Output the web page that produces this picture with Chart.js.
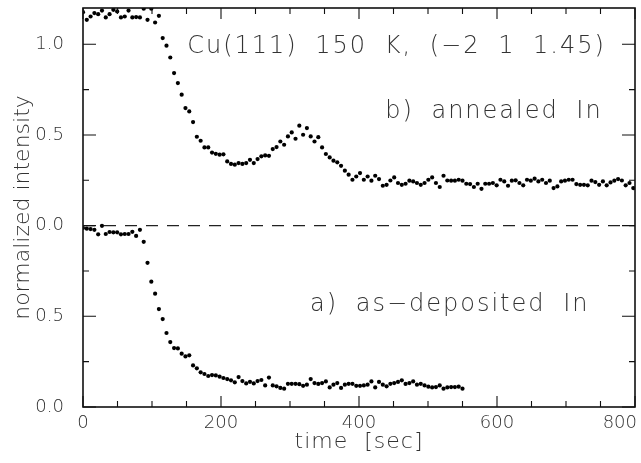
<!DOCTYPE html>
<html>
<head>
<meta charset="utf-8">
<script src="https://cdn.jsdelivr.net/npm/chart.js@4.4.1/dist/chart.umd.min.js"></script>
<style>
  html, body { margin: 0; padding: 0; background: #fff; }
  #wrap { width: 641px; height: 463px; }
</style>
</head>
<body>
<div id="wrap"><canvas id="intensityChart" width="641" height="463"></canvas></div>
<script>
// scan times in seconds (one scan every 5.5 s)
const scanTimes = [
  0, 5.5, 11, 16.5, 22, 27.5, 33, 38.5, 44, 49.5,
  55, 60.5, 66, 71.5, 77, 82.5, 88, 93.5, 99, 104.5,
  110, 115.5, 121, 126.5, 132, 137.5, 143, 148.5, 154, 159.5,
  165, 170.5, 176, 181.5, 187, 192.5, 198, 203.5, 209, 214.5,
  220, 225.5, 231, 236.5, 242, 247.5, 253, 258.5, 264, 269.5,
  275, 280.5, 286, 291.5, 297, 302.5, 308, 313.5, 319, 324.5,
  330, 335.5, 341, 346.5, 352, 357.5, 363, 368.5, 374, 379.5,
  385, 390.5, 396, 401.5, 407, 412.5, 418, 423.5, 429, 434.5,
  440, 445.5, 451, 456.5, 462, 467.5, 473, 478.5, 484, 489.5,
  495, 500.5, 506, 511.5, 517, 522.5, 528, 533.5, 539, 544.5,
  550, 555.5, 561, 566.5, 572, 577.5, 583, 588.5, 594, 599.5,
  605, 610.5, 616, 621.5, 627, 632.5, 638, 643.5, 649, 654.5,
  660, 665.5, 671, 676.5, 682, 687.5, 693, 698.5, 704, 709.5,
  715, 720.5, 726, 731.5, 737, 742.5, 748, 753.5, 759, 764.5,
  770, 775.5, 781, 786.5, 792, 797.5
];

// a) as-deposited In
const asDeposited = [
  0.987, 0.983, 0.981, 0.977, 0.952, 0.999, 0.954, 0.965, 0.963, 0.963,
  0.952, 0.954, 0.954, 0.966, 0.943, 0.977, 0.911, 0.795, 0.691, 0.625,
  0.540, 0.485, 0.408, 0.358, 0.325, 0.323, 0.294, 0.279, 0.285, 0.229,
  0.213, 0.191, 0.182, 0.171, 0.176, 0.174, 0.167, 0.160, 0.154, 0.147,
  0.136, 0.165, 0.143, 0.130, 0.139, 0.130, 0.143, 0.149, 0.119, 0.162,
  0.119, 0.114, 0.105, 0.101, 0.128, 0.128, 0.128, 0.126, 0.117, 0.123,
  0.154, 0.132, 0.127, 0.132, 0.141, 0.108, 0.123, 0.132, 0.105, 0.123,
  0.128, 0.128, 0.117, 0.117, 0.119, 0.123, 0.141, 0.108, 0.138, 0.123,
  0.114, 0.128, 0.132, 0.138, 0.147, 0.127, 0.132, 0.141, 0.123, 0.128,
  0.119, 0.112, 0.108, 0.110, 0.119, 0.101, 0.108, 0.110, 0.110, 0.112, 0.101
];

// b) annealed In
const annealed = [
  1.177, 1.135, 1.153, 1.172, 1.166, 1.186, 1.148, 1.166, 1.190, 1.181,
  1.148, 1.153, 1.186, 1.148, 1.150, 1.148, 1.196, 1.135, 1.196, 1.120,
  1.157, 1.034, 0.992, 0.927, 0.841, 0.786, 0.722, 0.648, 0.630, 0.571,
  0.490, 0.468, 0.431, 0.431, 0.403, 0.396, 0.391, 0.393, 0.354, 0.340,
  0.336, 0.345, 0.340, 0.345, 0.363, 0.345, 0.367, 0.382, 0.387, 0.385,
  0.422, 0.433, 0.464, 0.446, 0.492, 0.514, 0.479, 0.551, 0.501, 0.538,
  0.492, 0.464, 0.488, 0.431, 0.395, 0.376, 0.358, 0.349, 0.330, 0.303,
  0.281, 0.253, 0.271, 0.290, 0.253, 0.271, 0.248, 0.275, 0.257, 0.220,
  0.225, 0.249, 0.266, 0.235, 0.225, 0.231, 0.248, 0.244, 0.235, 0.225,
  0.235, 0.253, 0.266, 0.235, 0.213, 0.275, 0.249, 0.248, 0.248, 0.253,
  0.248, 0.231, 0.229, 0.213, 0.231, 0.203, 0.231, 0.231, 0.235, 0.222,
  0.253, 0.244, 0.220, 0.248, 0.250,
  0.235, 0.222, 0.253, 0.248, 0.259, 0.244, 0.253, 0.235, 0.248, 0.207,
  0.216, 0.244, 0.248, 0.253, 0.253, 0.229, 0.225, 0.225, 0.222, 0.248,
  0.240, 0.225, 0.244, 0.222, 0.238, 0.248, 0.257, 0.249, 0.222, 0.235, 0.207
];

// upper panel (b) sits on top of the lower one, its zero is at 1.0
const PANEL_OFFSET = 1.0;

const xTickValues = [0, 200, 400, 600, 800];
const xMinorStep = 50;
const yTickValues = [0, 0.5, 1.0, 1.5, 2.0];
const yTickLabels = ['0.0', '0.5', '0.0', '0.5', '1.0'];
const yMinorTicks = [0.25, 0.75, 1.25, 1.75];

const FONT = 'DejaVu Sans';
const TEXT_COLOR = '#333';

const pointsA = asDeposited.map((v, i) => ({ x: scanTimes[i], y: v }));
const pointsB = annealed.map((v, i) => ({ x: scanTimes[i], y: v + PANEL_OFFSET }));

// frame, inward tick marks, x labels/title and the in-plot captions
const framePlugin = {
  id: 'framePlugin',
  afterDraw(chart) {
    const { ctx, chartArea: a, scales: { x, y } } = chart;
    ctx.save();
    ctx.strokeStyle = '#111';
    ctx.lineWidth = 1.6;
    ctx.strokeRect(a.left, a.top, a.right - a.left, a.bottom - a.top);

    ctx.lineWidth = 1.1;
    ctx.beginPath();
    for (let v = x.min; v <= x.max; v += xMinorStep) {
      const px = x.getPixelForValue(v);
      const len = xTickValues.includes(v) ? 11 : 6;
      ctx.moveTo(px, a.bottom); ctx.lineTo(px, a.bottom - len);
      ctx.moveTo(px, a.top); ctx.lineTo(px, a.top + len);
    }
    yTickValues.concat(yMinorTicks).forEach(v => {
      const py = y.getPixelForValue(v);
      const len = yTickValues.includes(v) ? 13 : 6;
      ctx.moveTo(a.left, py); ctx.lineTo(a.left + len, py);
      ctx.moveTo(a.right, py); ctx.lineTo(a.right - len, py);
    });
    ctx.stroke();

    ctx.fillStyle = TEXT_COLOR;
    ctx.font = `200 18px "${FONT}"`;
    ctx.textAlign = 'center';
    ctx.textBaseline = 'alphabetic';
    xTickValues.forEach(v => {
      const label = String(v);
      const w = ctx.measureText(label).width;
      let px = x.getPixelForValue(v);
      px = Math.min(px, chart.width - 4 - w / 2);
      ctx.fillText(label, px, a.bottom + 21);
    });

    // x axis title
    ctx.font = `200 22px "${FONT}"`;
    ctx.textBaseline = 'middle';
    ctx.letterSpacing = '1px';
    ctx.wordSpacing = '8px';
    ctx.fillText('time [sec]', (a.left + a.right) / 2, 442);

    ctx.font = `200 24px "${FONT}"`;
    ctx.textAlign = 'left';
    ctx.letterSpacing = '2px';
    ctx.fillText('Cu(111) 150 K, (\u22122 1 1.45)', x.getPixelForValue(151), y.getPixelForValue(1.985));
    ctx.fillText('b) annealed In', x.getPixelForValue(438), y.getPixelForValue(1.626));
    ctx.fillText('a) as\u2212deposited In', x.getPixelForValue(329), y.getPixelForValue(0.562));
    ctx.restore();
  }
};

new Chart(document.getElementById('intensityChart'), {
  type: 'scatter',
  data: {
    datasets: [
      {
        data: [{ x: 0, y: PANEL_OFFSET }, { x: 800, y: PANEL_OFFSET }],
        showLine: true,
        borderColor: '#222',
        borderWidth: 1.2,
        borderDash: [12, 9],
        pointRadius: 0
      },
      {
        data: pointsA,
        pointRadius: 2.1,
        pointBackgroundColor: '#000',
        pointBorderWidth: 0
      },
      {
        data: pointsB,
        pointRadius: 2.1,
        pointBackgroundColor: '#000',
        pointBorderWidth: 0
      }
    ]
  },
  options: {
    responsive: false,
    animation: false,
    devicePixelRatio: 1,
    layout: { padding: { top: 8, right: 6, bottom: 0, left: 0 } },
    plugins: {
      legend: { display: false },
      tooltip: { enabled: false }
    },
    scales: {
      x: {
        type: 'linear',
        min: 0,
        max: 800,
        grid: { display: false },
        border: { display: false },
        ticks: { display: false },
        afterFit(scale) {
          scale.height = 56;
          scale.paddingLeft = 0;
          scale.paddingRight = 0;
        }
      },
      y: {
        type: 'linear',
        min: 0,
        max: 2.2,
        grid: { display: false },
        border: { display: false },
        afterBuildTicks(scale) {
          scale.ticks = yTickValues.map(v => ({ value: v }));
        },
        ticks: {
          padding: 11,
          color: TEXT_COLOR,
          font: { family: FONT, size: 18, weight: 200 },
          callback: (v, i) => yTickLabels[i]
        },
        title: {
          display: true,
          text: 'normalized intensity',
          color: TEXT_COLOR,
          font: { family: FONT, size: 22, weight: 200 },
          padding: { top: 10, bottom: 10 }
        },
        afterFit(scale) {
          scale.width = 83;
          scale.paddingTop = 0;
          scale.paddingBottom = 0;
        }
      }
    }
  },
  plugins: [framePlugin]
});
</script>
</body>
</html>
